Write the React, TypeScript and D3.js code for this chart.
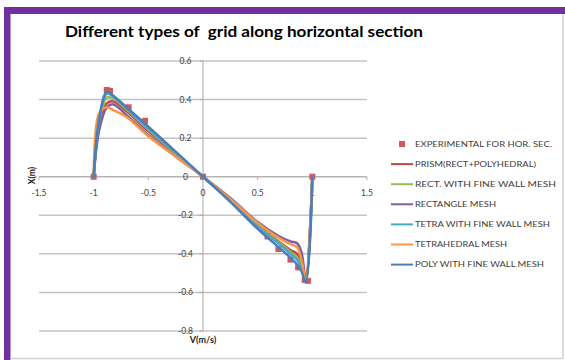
import React from "react";
import * as d3 from "d3";

const W = 565;
const H = 360;

const xTicks = [-1.5, -1, -0.5, 0, 0.5, 1, 1.5];
const yTicks = [0.6, 0.4, 0.2, 0, -0.2, -0.4, -0.6, -0.8];
const yTickLabels = ["0.6", "0.4", "0.2", "0", "-0.2", "-0.4", "-0.6", "-0.8"];
const xTickLabels = ["-1.5", "-1", "-0.5", "0", "0.5", "1", "1.5"];

const expX = [-1, -0.88, -0.85, -0.68, -0.53, 0, 0.59, 0.69, 0.8, 0.87, 0.93, 0.96, 1];
const expY = [0, 0.45, 0.445, 0.36, 0.29, 0, -0.31, -0.375, -0.43, -0.47, -0.535, -0.54, 0];

const simX = [-1, -0.95, -0.88, -0.82, -0.7, -0.5, -0.25, 0, 0.25, 0.5, 0.7, 0.8, 0.86, 0.9, 0.94, 1];
const prismY = [0, 0.26, 0.38, 0.39, 0.34, 0.235, 0.115, 0, -0.115, -0.25, -0.34, -0.38, -0.4, -0.44, -0.54, 0];
const rectFineY = [0, 0.28, 0.41, 0.405, 0.35, 0.245, 0.12, 0, -0.12, -0.255, -0.345, -0.39, -0.42, -0.46, -0.54, 0];
const rectY = [0, 0.24, 0.36, 0.375, 0.32, 0.215, 0.105, 0, -0.11, -0.235, -0.31, -0.335, -0.345, -0.39, -0.53, 0];
const tetraFineY = [0, 0.29, 0.43, 0.415, 0.355, 0.25, 0.125, 0, -0.125, -0.26, -0.35, -0.4, -0.43, -0.47, -0.54, 0];
const tetraY = [0, 0.33, 0.36, 0.345, 0.31, 0.21, 0.105, 0, -0.115, -0.24, -0.32, -0.35, -0.365, -0.43, -0.535, 0];
const polyFineY = [0, 0.3, 0.44, 0.42, 0.36, 0.26, 0.13, 0, -0.13, -0.27, -0.37, -0.42, -0.455, -0.49, -0.545, 0];

const seriesNames = [
  "PRISM(RECT+POLYHEDRAL)",
  "RECT. WITH FINE WALL MESH",
  "RECTANGLE MESH",
  "TETRA WITH FINE WALL MESH",
  "TETRAHEDRAL MESH",
  "POLY WITH FINE WALL MESH",
];
const seriesValues = [prismY, rectFineY, rectY, tetraFineY, tetraY, polyFineY];
const seriesColors = ["#BE4B48", "#98B954", "#7D60A0", "#46AAC5", "#F79646", "#4A7EBB"];
const expName = "EXPERIMENTAL FOR HOR. SEC.";
const expColor = "#CC5A60";
const legendTextWidths = [137, 121, 141, 81, 135, 92, 129];

const FONT = "Lato, 'Open Sans', sans-serif";

export default function App() {
  const x = d3.scaleLinear().domain([-1.5, 1.5]).range([39, 367]);
  const y = d3.scaleLinear().domain([-0.8, 0.6]).range([331, 61]);
  const line = d3
    .line<[number, number]>()
    .x((d) => x(d[0]))
    .y((d) => y(d[1]))
    .curve(d3.curveCatmullRom.alpha(0.5));

  const legendX = 391;
  const legendY0 = 144;
  const legendStep = 20.1;

  return (
    <svg
      width={W}
      height={H}
      style={{ position: "absolute", left: 0, top: 0, background: "#fff" }}
      fontFamily={FONT}
    >
      {/* frame */}
      <rect x={4} y={7} width={561} height={7} fill="#7030A0" />
      <rect x={4} y={7} width={6.5} height={353} fill="#7030A0" />
      <line x1={563} y1={14} x2={563} y2={358.5} stroke="#cfcfcf" strokeWidth={1.5} />
      <line x1={10.5} y1={358.5} x2={563} y2={358.5} stroke="#cfcfcf" strokeWidth={1.5} />

      {/* title */}
      <text
        x={244}
        y={37}
        textAnchor="middle"
        fontSize={14.5}
        fontWeight="bold"
        fill="#000"
        textLength={358}
        lengthAdjust="spacingAndGlyphs"
        style={{ whiteSpace: "pre" }}
      >
        {"Different types of  grid along horizontal section"}
      </text>

      {/* gridlines */}
      {yTicks.map((t) =>
        t === 0 ? null : (
          <line key={t} x1={x(-1.5)} x2={x(1.5)} y1={y(t)} y2={y(t)} stroke="#c4c4c4" strokeWidth={1.5} />
        )
      )}
      {/* x axis */}
      <line x1={x(-1.5)} x2={x(1.5)} y1={y(0)} y2={y(0)} stroke="#b4b4b4" strokeWidth={1.5} />
      {xTicks.map((t) => (
        <line key={"xt" + t} x1={x(t)} x2={x(t)} y1={y(0)} y2={y(0) + 3.5} stroke="#b4b4b4" strokeWidth={1} />
      ))}
      {/* y axis */}
      <line x1={x(0)} x2={x(0)} y1={y(0.6)} y2={y(-0.8)} stroke="#a8a8a8" strokeWidth={1} />
      {yTicks.map((t) => (
        <line key={"yt" + t} x1={x(0) - 3.5} x2={x(0)} y1={y(t)} y2={y(t)} stroke="#a8a8a8" strokeWidth={1} />
      ))}

      {/* tick labels */}
      {yTicks.map((t, i) => (
        <text key={"yl" + t} x={185.5} y={y(t) + 3} textAnchor="middle" fontSize={8.5} fill="#404040">
          {yTickLabels[i]}
        </text>
      ))}
      {xTicks.map((t, i) => (
        <text key={"xl" + t} x={x(t)} y={196} textAnchor="middle" fontSize={8.5} fill="#404040">
          {xTickLabels[i]}
        </text>
      ))}

      {/* axis titles */}
      <text
        transform={`translate(34.5,175.5) rotate(-90)`}
        textAnchor="middle"
        fontSize={8.5}
        fontWeight="bold"
        fill="#222"
      >
        X(m)
      </text>
      <text x={203} y={343} textAnchor="middle" fontSize={9} fontWeight="bold" fill="#222">
        V(m/s)
      </text>

      {/* experimental markers */}
      {expX.map((vx, i) => (
        <rect key={"e" + i} x={x(vx) - 3} y={y(expY[i]) - 3} width={6} height={6} fill={expColor} />
      ))}

      {/* series lines */}
      {seriesValues.map((vals, si) => (
        <path
          key={"s" + si}
          d={line(simX.map((vx, i) => [vx, vals[i]] as [number, number])) || ""}
          fill="none"
          stroke={seriesColors[si]}
          strokeWidth={2.5}
          strokeLinejoin="round"
          strokeLinecap="round"
        />
      ))}

      {/* legend */}
      <rect x={legendX + 8} y={legendY0 - 3} width={6} height={6} fill={expColor} />
      <text
        x={415}
        y={legendY0 + 2.8}
        fontSize={8}
        fill="#404040"
        textLength={legendTextWidths[0]}
        lengthAdjust="spacingAndGlyphs"
      >
        {expName}
      </text>
      {seriesNames.map((name, i) => {
        const ly = legendY0 + legendStep * (i + 1);
        return (
          <g key={"l" + i}>
            <line x1={legendX} x2={legendX + 22} y1={ly} y2={ly} stroke={seriesColors[i]} strokeWidth={2} />
            <text
              x={415}
              y={ly + 2.8}
              fontSize={8}
              fill="#404040"
              textLength={legendTextWidths[i + 1]}
              lengthAdjust="spacingAndGlyphs"
            >
              {name}
            </text>
          </g>
        );
      })}
    </svg>
  );
}
